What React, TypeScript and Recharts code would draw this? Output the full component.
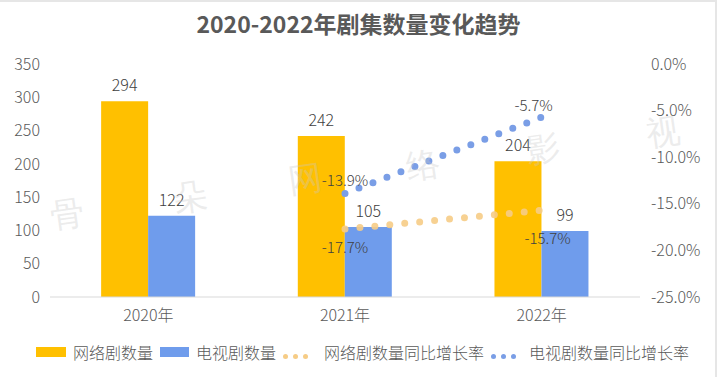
import React from 'react';
import {
  ComposedChart,
  Bar,
  Line,
  XAxis,
  YAxis,
  Legend,
  LabelList,
} from 'recharts';

const years = ['2020年', '2021年', '2022年'];
const webDramaCount = [294, 242, 204];
const tvDramaCount = [122, 105, 99];
const webDramaYoY: (number | null)[] = [null, -17.7, -15.7];
const tvDramaYoY: (number | null)[] = [null, -13.9, -5.7];
const leftTicks = [0, 50, 100, 150, 200, 250, 300, 350];
const rightTicks = [-25, -20, -15, -10, -5, 0];
const watermark = ['骨', '朵', '网', '络', '影', '视'];

const data = years.map((year, i) => ({
  year,
  web: webDramaCount[i],
  tv: tvDramaCount[i],
  webRate: webDramaYoY[i],
  tvRate: tvDramaYoY[i],
}));

const FONT = '"Noto Sans CJK SC", "Noto Sans", sans-serif';
const GOLD = '#FFC000';
const BLUE = '#6F9CEC';
const GOLD_DOT = '#F6CC86';
const BLUE_DOT = '#7A9EE6';
const TEXT = '#404040';
const TICK = '#595959';

const pct = (v: number) => `${v.toFixed(1)}%`;

const Dots = ({ color }: { color: string }) => (
  <span style={{ display: 'inline-flex', gap: 5, alignItems: 'center' }}>
    {[0, 1, 2].map((k) => (
      <span key={k} style={{ width: 5, height: 5, borderRadius: 3, background: color, display: 'inline-block' }} />
    ))}
  </span>
);

const LegendBox = () => (
  <div
    style={{
      display: 'flex',
      justifyContent: 'center',
      alignItems: 'center',
      height: 30,
      fontSize: 16,
      fontWeight: 300,
      color: TICK,
      fontFamily: FONT,
    }}
  >
    <span style={{ width: 30, height: 10, background: GOLD, marginRight: 7 }} />
    <span style={{ marginRight: 7 }}>网络剧数量</span>
    <span style={{ width: 29, height: 10, background: BLUE, marginRight: 7 }} />
    <span style={{ marginRight: 7 }}>电视剧数量</span>
    <span style={{ marginRight: 16 }}><Dots color={GOLD_DOT} /></span>
    <span style={{ marginRight: 7 }}>网络剧数量同比增长率</span>
    <span style={{ marginRight: 13 }}><Dots color={BLUE_DOT} /></span>
    <span>电视剧数量同比增长率</span>
  </div>
);

const tickStyle = { fontSize: 16, fill: TICK, fontFamily: FONT, fontWeight: 300 };
const labelStyle = { fontSize: 16, fill: TEXT, fontFamily: FONT, fontWeight: 300 };

// label nudges per category (index) for the rate lines
const makeRateLabel = (dxs: number[], dys: number[]) => (p: any) => {
  const { x, y, value, index } = p;
  if (value == null || x == null || y == null) return null;
  return (
    <text
      x={x + (dxs[index] || 0)}
      y={y + (dys[index] || 0)}
      textAnchor="middle"
      dominantBaseline="central"
      fontSize={15}
      fontWeight={300}
      fill={TEXT}
      fontFamily={FONT}
    >
      {pct(Number(value))}
    </text>
  );
};

const App: React.FC = () => {
  const wmPos = [
    [67, 212],
    [190, 195],
    [305, 177],
    [423, 163],
    [543, 147],
    [663, 130],
  ];
  return (
    <div
      style={{
        position: 'absolute',
        left: 0,
        top: 0,
        width: 717,
        height: 377,
        background: '#fff',
        fontFamily: FONT,
        boxSizing: 'border-box',
        borderTop: '2px solid #e6e6e6',
        borderRight: '2px solid #e6e6e6',
        overflow: 'hidden',
      }}
    >
      <div
        style={{
          position: 'absolute',
          top: 6,
          left: 0,
          width: 717,
          textAlign: 'center',
          fontSize: 23,
          fontWeight: 700,
          color: TICK,
          lineHeight: '30px',
        }}
      >
        2020-2022年剧集数量变化趋势
      </div>
      <div style={{ position: 'absolute', left: 0, top: -2 }}>
        <ComposedChart
          width={717}
          height={377}
          data={data}
          margin={{ top: 64, right: 0, bottom: 10, left: 8 }}
          barCategoryGap="26%"
          barGap={0}
        >
          <XAxis
            dataKey="year"
            axisLine={{ stroke: '#d9d9d9' }}
            tickLine={false}
            tickSize={0}
            tickMargin={13}
            height={40}
            tick={tickStyle}
          />
          <YAxis
            yAxisId="left"
            domain={[0, 350]}
            ticks={leftTicks}
            axisLine={false}
            tickLine={false}
            tickSize={0}
            tickMargin={10}
            width={42}
            tick={tickStyle}
          />
          <YAxis
            yAxisId="right"
            orientation="right"
            domain={[-25, 0]}
            ticks={rightTicks}
            tickFormatter={pct}
            axisLine={false}
            tickLine={false}
            tickSize={0}
            tickMargin={11}
            width={77}
            tick={{ ...tickStyle, textAnchor: 'start' }}
          />
          <Legend verticalAlign="bottom" content={() => <LegendBox />} />
          <Bar yAxisId="left" dataKey="web" name="网络剧数量" fill={GOLD} isAnimationActive={false}>
            <LabelList dataKey="web" position="top" offset={10} style={labelStyle} />
          </Bar>
          <Bar yAxisId="left" dataKey="tv" name="电视剧数量" fill={BLUE} isAnimationActive={false}>
            <LabelList dataKey="tv" position="top" offset={10} style={labelStyle} />
          </Bar>
          <Line
            yAxisId="right"
            dataKey="webRate"
            name="网络剧数量同比增长率"
            stroke={GOLD_DOT}
            strokeOpacity={0.9}
            strokeWidth={7}
            strokeDasharray="0 15"
            strokeLinecap="round"
            dot={false}
            activeDot={false}
            isAnimationActive={false}
          >
            <LabelList dataKey="webRate" content={makeRateLabel([0, 0, 6], [0, 18, 27])} />
          </Line>
          <Line
            yAxisId="right"
            dataKey="tvRate"
            name="电视剧数量同比增长率"
            stroke={BLUE_DOT}
            strokeWidth={7}
            strokeDasharray="0 15"
            strokeLinecap="round"
            dot={false}
            activeDot={false}
            isAnimationActive={false}
          >
            <LabelList dataKey="tvRate" content={makeRateLabel([0, 0, -8], [0, -14, -13])} />
          </Line>
        </ComposedChart>
      </div>
      {watermark.map((ch, i) => (
        <div
          key={ch}
          style={{
            position: 'absolute',
            left: wmPos[i][0] - 17,
            top: wmPos[i][1] - 19,
            fontSize: 34,
            lineHeight: '38px',
            color: 'rgba(200,200,200,0.35)',
            fontFamily: '"DejaVu Serif", serif',
            transform: 'rotate(-8deg)',
            pointerEvents: 'none',
          }}
        >
          {ch}
        </div>
      ))}
    </div>
  );
};

export default App;
